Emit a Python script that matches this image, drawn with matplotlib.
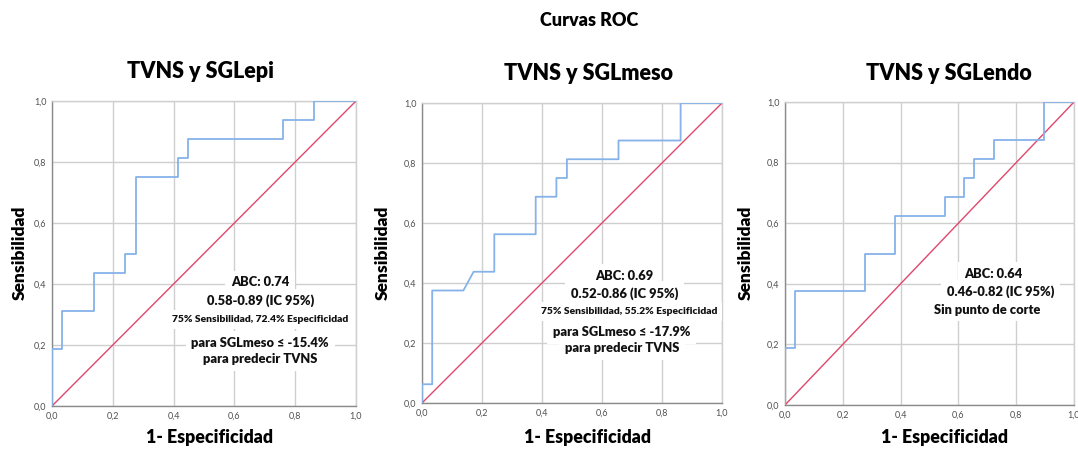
import matplotlib
matplotlib.use("Agg")
import matplotlib.pyplot as plt
from matplotlib.ticker import FuncFormatter

plt.rcParams['font.family'] = ['Lato', 'DejaVu Sans']

# ---- data ----
panel_titles = ["TVNS y SGLepi", "TVNS y SGLmeso", "TVNS y SGLendo"]

epi_fpr = [0, 0, 0.034, 0.034, 0.138, 0.138, 0.241, 0.241, 0.276, 0.276, 0.414, 0.414,
           0.448, 0.448, 0.759, 0.759, 0.862, 0.862, 1.0]
epi_tpr = [0, 0.1875, 0.1875, 0.3125, 0.3125, 0.4375, 0.4375, 0.5, 0.5, 0.75, 0.75, 0.8125,
           0.8125, 0.875, 0.875, 0.9375, 0.9375, 1.0, 1.0]

meso_fpr = [0, 0, 0.034, 0.034, 0.138, 0.172, 0.241, 0.241, 0.379, 0.379, 0.448, 0.448,
            0.483, 0.483, 0.655, 0.655, 0.862, 0.862, 1.0]
meso_tpr = [0, 0.0625, 0.0625, 0.375, 0.375, 0.4375, 0.4375, 0.5625, 0.5625, 0.6875, 0.6875,
            0.75, 0.75, 0.8125, 0.8125, 0.875, 0.875, 1.0, 1.0]

endo_fpr = [0, 0, 0.034, 0.034, 0.276, 0.276, 0.379, 0.379, 0.552, 0.552, 0.621, 0.621,
            0.655, 0.655, 0.724, 0.724, 0.897, 0.897, 1.0]
endo_tpr = [0, 0.1875, 0.1875, 0.375, 0.375, 0.5, 0.5, 0.625, 0.625, 0.6875, 0.6875, 0.75,
            0.75, 0.8125, 0.8125, 0.875, 0.875, 1.0, 1.0]

ref_line = [0.0, 1.0]
ticks = [0.0, 0.2, 0.4, 0.6, 0.8, 1.0]

epi_notes = ["ABC: 0.74", "0.58-0.89 (IC 95%)", "75% Sensibilidad, 72.4% Especificidad",
             "para SGLmeso \u2264 -15.4%", "para predecir TVNS"]
meso_notes = ["ABC: 0.69", "0.52-0.86 (IC 95%)", "75% Sensibilidad, 55.2% Especificidad",
              "para SGLmeso \u2264 -17.9%", "para predecir TVNS"]
endo_notes = ["ABC: 0.64", "0.46-0.82 (IC 95%)", "Sin punto de corte"]

# ---- layout / style ----
W, H = 1078, 450
fig = plt.figure(figsize=(W / 100, H / 100), dpi=100)

def px_axes(l, r, t, b):
    return fig.add_axes([l / W, (H - b) / H, (r - l) / W, (b - t) / H])

axes_px = [(52, 356, 101, 406), (422, 722, 103, 403), (785, 1074, 102, 405)]
title_px = [(200, 72), (589, 74), (949, 74)]
xlabel_px = [(210, 437), (588, 437), (944, 437)]
ylabel_px = [(20, 253), (383, 253), (746, 253)]

curves = [(epi_fpr, epi_tpr), (meso_fpr, meso_tpr), (endo_fpr, endo_tpr)]

BIG = 9.3
SMALL = 7.4
note_layouts = [
    [(0.685, 0.405, BIG), (0.685, 0.344, BIG), (0.685, 0.284, SMALL), (0.685, 0.207, BIG), (0.685, 0.155, BIG)],
    [(0.674, 0.423, BIG), (0.674, 0.365, BIG), (0.689, 0.305, SMALL), (0.666, 0.236, BIG), (0.666, 0.184, BIG)],
    [(0.72, 0.432, BIG), (0.745, 0.373, BIG), (0.70, 0.315, BIG)],
]
notes = [epi_notes, meso_notes, endo_notes]

blue = "#86b2ea"
red = "#e0476c"
gridc = "#cfcfcf"

fmt = FuncFormatter(lambda v, p: f"{v:.1f}".replace(".", ","))

for i, (ax_px, (fpr, tpr)) in enumerate(zip(axes_px, curves)):
    ax = px_axes(*ax_px)
    ax.set_xlim(0, 1)
    ax.set_ylim(0, 1)
    ax.set_xticks(ticks)
    ax.set_yticks(ticks)
    ax.xaxis.set_major_formatter(fmt)
    ax.yaxis.set_major_formatter(fmt)
    ax.tick_params(length=0, labelsize=6.5, labelcolor="#505050", pad=4)
    ax.grid(True, color=gridc, lw=1.0, zorder=0)
    ax.set_axisbelow(True)
    for s in ["top", "right"]:
        ax.spines[s].set_color(gridc)
        ax.spines[s].set_linewidth(1.0)
    for s in ["left", "bottom"]:
        ax.spines[s].set_color("#8a8a8a")
        ax.spines[s].set_linewidth(1.0)
    ax.plot(ref_line, ref_line, color=red, lw=1.0, zorder=4)
    ax.plot(fpr, tpr, color=blue, lw=1.3, zorder=5)
    for txt, (x, y, fs) in zip(notes[i], note_layouts[i]):
        ax.text(x, y, txt, fontsize=fs, fontweight="heavy", ha="center", va="center",
                color="#111111", zorder=3,
                bbox=dict(boxstyle="square,pad=0.45", fc="white", ec="none"))

    tx, ty = title_px[i]
    fig.text(tx / W, 1 - ty / H, panel_titles[i], fontsize=15.5, fontweight="heavy",
             ha="center", va="center")
    lx, ly = xlabel_px[i]
    fig.text(lx / W, 1 - ly / H, "1- Especificidad", fontsize=12.8, fontweight="heavy",
             ha="center", va="center")
    yx, yy = ylabel_px[i]
    fig.text(yx / W, 1 - yy / H, "Sensibilidad", fontsize=12.5, fontweight="heavy",
             ha="center", va="center", rotation=90)

fig.text(589 / W, 1 - 20 / H, "Curvas ROC", fontsize=13, fontweight="heavy",
         ha="center", va="center")

fig.savefig("out.png", dpi=100, facecolor="white")
